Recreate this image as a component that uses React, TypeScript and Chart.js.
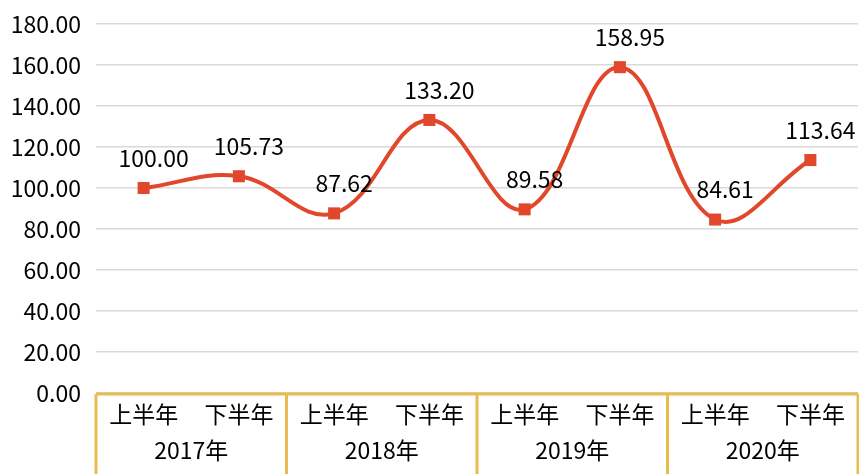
import React, { useEffect, useRef } from "react";
import { Chart, registerables } from "chart.js";

Chart.register(...registerables);

const halfLabels = ["上半年", "下半年", "上半年", "下半年", "上半年", "下半年", "上半年", "下半年"];
const yearLabels = ["2017年", "2018年", "2019年", "2020年"];
const values = [100.0, 105.73, 87.62, 133.2, 89.58, 158.95, 84.61, 113.64];
const yTicks = [0, 20, 40, 60, 80, 100, 120, 140, 160, 180];

const FONT = '"Noto Sans CJK SC", "Noto Sans", sans-serif';
const LINE_COLOR = "#E0472B";
const GOLD = "#E8BC4E";

const overlayPlugin = {
  id: "overlay",
  afterDatasetsDraw(chart: any) {
    const ctx = chart.ctx;
    const meta = chart.getDatasetMeta(0);
    ctx.save();
    ctx.font = `23px ${FONT}`;
    ctx.fillStyle = "#000";
    ctx.textAlign = "center";
    ctx.textBaseline = "middle";
    meta.data.forEach((pt: any, i: number) => {
      ctx.fillText(values[i].toFixed(2), pt.x + 10, pt.y - 30);
    });
    ctx.restore();
  },
  afterDraw(chart: any) {
    const ctx = chart.ctx;
    const xs = chart.scales.x;
    const ys = chart.scales.y;
    const area = chart.chartArea;
    const H = chart.height;
    const n = halfLabels.length;
    const step = (area.right - area.left) / n;
    ctx.save();
    ctx.strokeStyle = GOLD;
    ctx.lineWidth = 3;
    ctx.beginPath();
    ctx.moveTo(area.left, area.bottom + 1);
    ctx.lineTo(area.right, area.bottom + 1);
    for (let g = 0; g <= yearLabels.length; g++) {
      const x = area.left + g * 2 * step;
      ctx.moveTo(x, area.bottom + 1);
      ctx.lineTo(x, H);
    }
    ctx.stroke();
    ctx.font = `23px ${FONT}`;
    ctx.fillStyle = "#000";
    ctx.textBaseline = "middle";
    ctx.textAlign = "right";
    yTicks.forEach((v) => {
      ctx.fillText(v.toFixed(2), area.left - 15, ys.getPixelForValue(v));
    });
    ctx.textAlign = "center";
    halfLabels.forEach((l, i) => {
      ctx.fillText(l, xs.getPixelForValue(i), area.bottom + 21);
    });
    yearLabels.forEach((l, g) => {
      const x = (xs.getPixelForValue(2 * g) + xs.getPixelForValue(2 * g + 1)) / 2;
      ctx.fillText(l, x, area.bottom + 57);
    });
    ctx.restore();
  },
};

export default function App() {
  const ref = useRef<HTMLCanvasElement>(null);
  useEffect(() => {
    document.body.style.margin = "0";
    const chart = new Chart(ref.current!, {
      type: "line",
      data: {
        labels: halfLabels,
        datasets: [
          {
            data: values,
            borderColor: LINE_COLOR,
            backgroundColor: LINE_COLOR,
            borderWidth: 4,
            tension: 0.4,
            pointStyle: "rect",
            pointRadius: 8.5,
            pointBorderWidth: 0,
            pointBackgroundColor: LINE_COLOR,
            clip: false as any,
          },
        ],
      },
      options: {
        animation: false,
        responsive: false,
        maintainAspectRatio: false,
        layout: { autoPadding: false, padding: { top: 24, bottom: 81, left: 0, right: 1 } },
        plugins: { legend: { display: false }, tooltip: { enabled: false } },
        scales: {
          x: {
            type: "category",
            offset: true,
            display: false,
          },
          y: {
            min: 0,
            max: 180,
            afterBuildTicks: (s: any) => {
              s.ticks = yTicks.map((v) => ({ value: v }));
            },
            afterFit: (s: any) => {
              s.width = 96;
            },
            grid: { color: "#D9D9D9", lineWidth: 1.5, drawTicks: false },
            border: { display: false },
            ticks: { display: false },
          },
        },
      },
      plugins: [overlayPlugin],
    });
    return () => chart.destroy();
  }, []);
  return (
    <div style={{ width: 859, height: 474 }}>
      <canvas ref={ref} width={859} height={474} style={{ display: "block" }} />
    </div>
  );
}
